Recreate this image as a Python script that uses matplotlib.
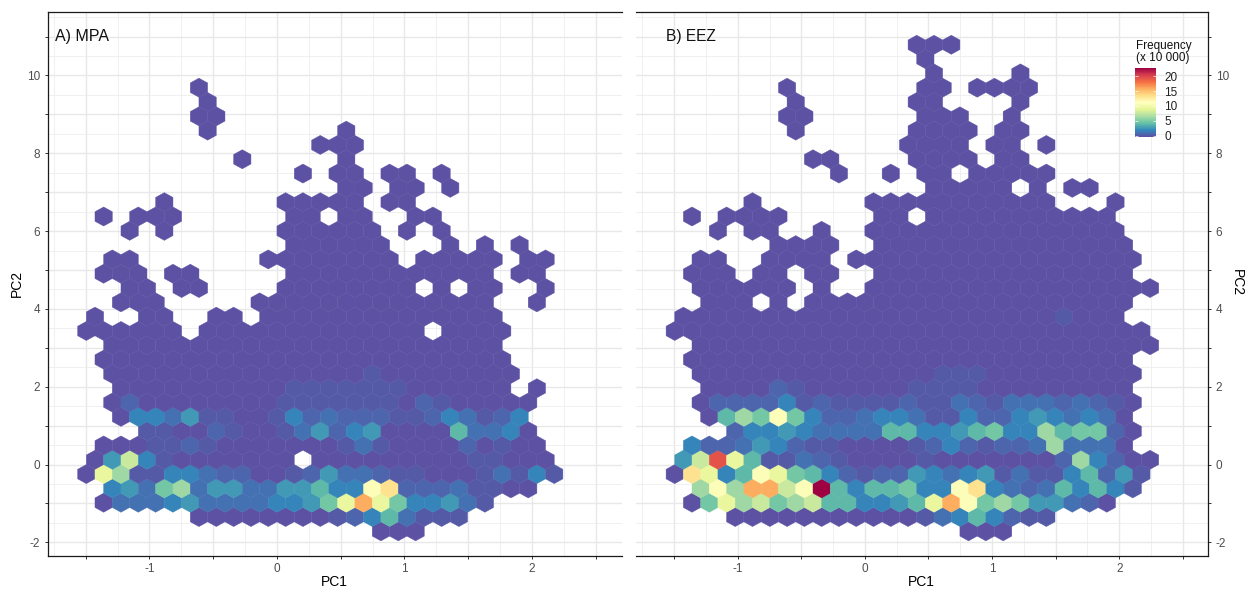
import matplotlib
matplotlib.use("Agg")
import matplotlib.pyplot as plt
from matplotlib.collections import PolyCollection
from matplotlib.colors import Normalize
from matplotlib.cm import ScalarMappable
import numpy as np

plt.rcParams['font.family'] = ['Liberation Sans', 'DejaVu Sans']

# One string per hexagon row, lowest row first; one character per column.
# '.' = empty bin, other characters = frequency class (see FREQ_CLASS).
FREQ_CLASS = {'0': 0.1, '1': 0.45, '2': 0.9, '3': 1.4, '4': 2.2, '5': 3.0, '6': 4.2, '7': 5.0,
              '8': 6.5, '9': 8.0, 'A': 9.5, 'B': 11.0, 'C': 13.5, 'D': 16.0, 'E': 19.5, 'F': 22.8}

MPA_ROWS = [
    "."*17 + "000",
    "......00000000" + "12463111",
    ".03334533334457" + "ADA7" + "44531",
    ".4537835533556" + "44BC" + "22231100",
    "0A811443220012" + "53321100013141",
    "05941" + "0000000" + "." + "00" + "0000000" + "11" + "000",
    ".00011210000000" + "131" + "0000" + "20100",
    "...110021001352" + "45" + "0000" + "63340",
    "..0443511001423" + "222112" + "43124",
    ".02" + "00000000" + "1111" + "111" + "0" + "21" + "00000",
    "..0000000000" + "1111111" + "000000" + "." + "0",
    "." + "0"*15 + "1" + "0"*8,
    "." + "0"*24,
    "." + "0"*23,
    "000000" + "." + "0"*13 + "." + "0000",
    "0..00..00." + "0"*14,
    "..000" + "....." + "0"*14 + ".." + "0",
    "..00.00" + "...." + "0"*8 + "." + "0" + "." + "00" + ".." + "0",
    ".000.00" + "....." + "0"*12 + "." + "00",
    ".00" + "......." + "0"*8 + "." + "00000" + "." + "00",
    "."*12 + "0"*6 + "..." + "0" + "." + "0" + "." + "0",
    "..0.0" + "."*6 + "0"*6 + "." + "0" + "." + "0",
    ".0.000" + "."*6 + "00" + "." + "00" + ".." + "00",
    "....0" + "."*6 + "0"*5 + "." + "00",
    "."*15 + "00" + "." + "00" + "." + "0",
    "."*12 + "0" + "." + "00" + "." + "00" + "." + "0",
    "."*9 + "0" + "."*5 + "0",
    "."*13 + "000",
    "."*7 + "0" + "."*7 + "0",
    "."*6 + "00",
    "."*7 + "0",
    "."*6 + "0",
]

EEZ_ROWS = [
    "."*17 + "000",
    "..." + "0"*11 + "1" + "3464211",
    ".07A89789664456" + "ADB78755320",
    ".8B8DD9BF646674" + "4BC432364641",
    "0CA46BA76421225" + "4345131146251",
    "59EA611321" + "0000" + "1" + "0000000" + "284200",
    ".42235421100001" + "242122383330",
    "...244543333664" + "456744867720",
    "..0687B74223443" + "114224543430",
    ".02222412111121" + "132133323210",
    "..0000" + "21" + "000000" + "1111" + "0"*9,
    "." + "0"*14 + "111" + "0"*9,
    "." + "0"*26,
    "." + "0"*27,
    "0"*28,
    "0"*22 + "1" + "000",
    "..000" + "." + "0" + "." + "0"*19,
    ".000000" + "." + "0" + ".." + "0"*17,
    ".000" + "." + "00" + "." + "00" + ".." + "0"*15,
    ".00" + ".." + "0000" + "." + "0"*17,
    "."*6 + "0000" + ".." + "0"*15,
    "..0.00" + ".." + "0" + ".." + "0"*15,
    ".0.0000" + "."*5 + "00" + "." + "0"*11,
    "....0" + "."*6 + "0"*11 + "..." + "0",
    "."*15 + "00000" + "." + "0" + "." + "00",
    "."*9 + "0" + ".." + "0" + "." + "00" + "." + "0"*5,
    "."*8 + "00" + "."*4 + "0000" + "." + "00",
    "."*13 + "0000" + "." + "00" + "." + "0",
    "."*7 + "0" + "."*6 + "0000" + "." + "00",
    "."*6 + "00" + "."*6 + "000" + ".." + "0",
    "."*7 + "0" + "."*6 + "00" + "...." + "0",
    "."*6 + "0" + "."*7 + "00" + "." + "0000",
    "."*15 + "0" + "...." + "0",
    "."*14 + "0",
    "."*14 + "000",
]

X_TICKS = [-1.5, -1, -0.5, 0, 0.5, 1, 1.5, 2, 2.5]
X_LABELS = ['', '-1', '', '0', '', '1', '', '2', '']
Y_TICKS = list(range(-2, 12))
Y_LABELS = ['-2', '', '0', '', '2', '', '4', '', '6', '', '8', '', '10', '']
CBAR_TICKS = [0, 5, 10, 15, 20]

W, H = 1253, 592
DX = 17.33 / 127.5       # column spacing in PC1 units
DY = 14.31 / 38.9        # row spacing in PC2 units
X_ODD0 = -190.67 / 127.5  # first column centre of odd rows
Y0 = -1.35 - DY           # centre of lowest row (row index -1)
HEX_X = np.array([0, 1, 1, 0, -1, -1]) * DX / 2
HEX_Y = np.array([1, .5, -.5, -1, -.5, .5]) * DY * 2 / 3

cmap = plt.get_cmap('Spectral_r')
norm = Normalize(0, 22.8)


def hexes(rows):
    polys, vals = [], []
    for r, row in enumerate(rows):
        j = r - 1
        x0 = X_ODD0 + (DX / 2 if j % 2 == 0 else 0)
        y = Y0 + r * DY
        for c, ch in enumerate(row):
            if ch == '.':
                continue
            polys.append(np.column_stack([x0 + c * DX + HEX_X, y + HEX_Y]))
            vals.append(FREQ_CLASS[ch])
    return polys, np.array(vals)


def ax_px(l, r, t, b):
    return [l / W, 1 - b / H, (r - l) / W, (b - t) / H]


fig = plt.figure(figsize=(W / 100, H / 100), dpi=100)
axA = fig.add_axes(ax_px(48, 622, 11.5, 555.5))
axB = fig.add_axes(ax_px(636, 1208, 11.5, 555.5))

for ax, rows, xlim in [(axA, MPA_ROWS, (-1.796, 2.706)), (axB, EEZ_ROWS, (-1.80, 2.698))]:
    ax.set_xlim(*xlim)
    ax.set_ylim(-2.339, 11.645)
    ax.set_axisbelow(True)
    ax.set_xticks(X_TICKS)
    ax.set_xticklabels(X_LABELS)
    ax.set_yticks(Y_TICKS)
    ax.set_yticklabels(Y_LABELS)
    ax.set_xticks(np.arange(-1.75, 2.7, 0.5), minor=True)
    ax.set_yticks(np.arange(-1.5, 11.6, 1.0), minor=True)
    ax.grid(True, which='major', color='#E8E8E8', lw=1.0)
    ax.grid(True, which='minor', color='#EEEEEE', lw=0.6)
    ax.tick_params(which='minor', length=0)
    ax.tick_params(which='major', length=2.5, width=0.7, color='#333333',
                   labelcolor='#4D4D4D', labelsize=8.5, pad=3)
    polys, vals = hexes(rows)
    pc = PolyCollection(polys, array=vals, cmap=cmap, norm=norm, edgecolors='face', linewidths=0.3, zorder=2)
    ax.add_collection(pc)
    for s in ax.spines.values():
        s.set_linewidth(0.9)
        s.set_color('#1A1A1A')

axA.spines['right'].set_visible(False)
axB.spines['left'].set_visible(False)
axB.yaxis.tick_right()


def ftext(x, y, s, **kw):
    fig.text(x / W, 1 - y / H, s, **kw)


ftext(55, 36, 'A) MPA', fontsize=11.5, color='#111111', ha='left', va='center')
ftext(666, 36, 'B) EEZ', fontsize=11.2, color='#111111', ha='left', va='center')
ftext(334, 582.5, 'PC1', fontsize=10, color='black', ha='center', va='center')
ftext(921, 582.5, 'PC1', fontsize=10, color='black', ha='center', va='center')
ftext(17, 283, 'PC2', fontsize=10, color='black', ha='center', va='center', rotation=90)
ftext(1237, 283, 'PC2', fontsize=10, color='black', ha='center', va='center', rotation=270)

# colour legend
cax = fig.add_axes(ax_px(1135, 1156, 68, 137))
cb = fig.colorbar(ScalarMappable(norm=Normalize(-0.5, 22.8), cmap=cmap), cax=cax, ticks=CBAR_TICKS)
cb.outline.set_visible(False)
cb.ax.tick_params(direction='in', length=2.5, width=0.5, color='white', left=True, right=True,
                  labelsize=8.5, labelcolor='#222222', pad=6)
ftext(1136, 52, 'Frequency\n(x 10 000)', fontsize=8.5, color='#111111', ha='left', va='center', linespacing=1.1)

fig.savefig('out.png', dpi=100, facecolor='white')
